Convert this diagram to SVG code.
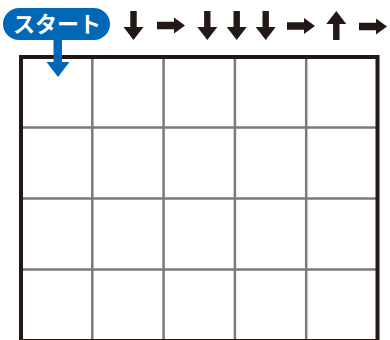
<svg xmlns="http://www.w3.org/2000/svg" width="390" height="340" viewBox="0 0 390 340">
<style>
.grid{stroke:#7a7a7a;stroke-width:2.5;fill:none}
.border{stroke:#231815;stroke-width:4;fill:none}
.arr{fill:#231815}
.lbl{font-family:"Noto Sans CJK JP","Noto Sans",sans-serif;font-weight:bold;font-size:22px;fill:#ffffff}
</style>
<defs>
<path id="down" d="M-3.2,0 H3.2 V16 H10 L0,29 L-10,16 H-3.2 Z"/>
<path id="right" d="M0,-3.7 H17 V-8 L28,0 L17,8 V3.7 H0 Z"/>
</defs>
<rect width="390" height="340" fill="#ffffff"/>
<g id="grid">
<g class="grid">
<line x1="92.3" y1="57" x2="92.3" y2="342"/>
<line x1="163.6" y1="57" x2="163.6" y2="342"/>
<line x1="234.9" y1="57" x2="234.9" y2="342"/>
<line x1="306.2" y1="57" x2="306.2" y2="342"/>
<line x1="21" y1="127.6" x2="377.5" y2="127.6"/>
<line x1="21" y1="198.6" x2="377.5" y2="198.6"/>
<line x1="21" y1="269.5" x2="377.5" y2="269.5"/>
</g>
<rect class="border" x="21" y="57" width="356.5" height="284"/>
</g>
<g id="start">
<rect x="3" y="8" width="107" height="32" rx="16" fill="#0068b7"/>
<text class="lbl" x="57" y="32" text-anchor="middle">スタート</text>
<path d="M53.5,39 H62 V62 H69.5 L58,77 L46.5,62 H53.5 Z" fill="#0068b7"/>
</g>
<g id="arrows" class="arr">
<use href="#down" x="133.5" y="11"/>
<use href="#right" x="157" y="25.5"/>
<use href="#down" x="207.3" y="11"/>
<use href="#down" x="236.7" y="11"/>
<use href="#down" x="265.7" y="11"/>
<use href="#right" x="287" y="26"/>
<use href="#down" transform="translate(336.3,40) scale(1,-1)"/>
<use href="#right" x="359" y="26.5"/>
</g>
</svg>
